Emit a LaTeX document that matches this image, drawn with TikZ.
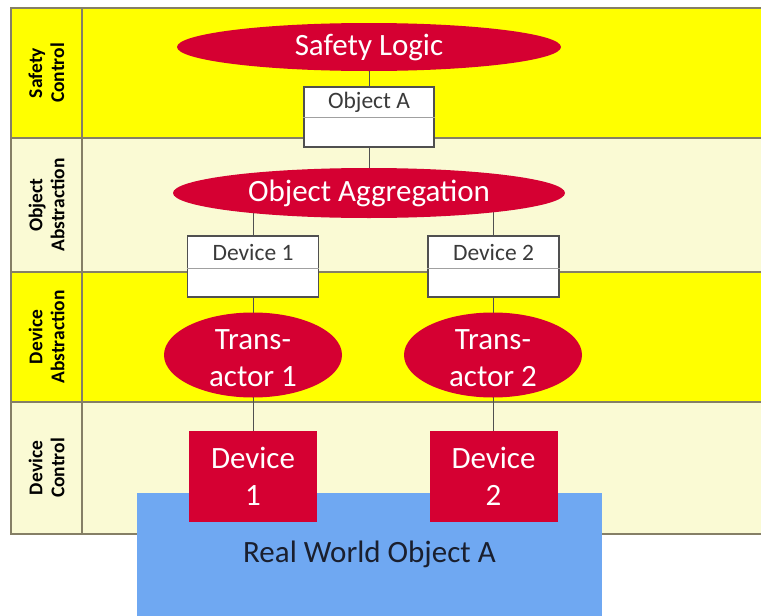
\documentclass[tikz,border=0pt]{standalone}
\usepackage{fontspec}
\setmainfont{Carlito}
\usetikzlibrary{shapes.geometric}
\pgfdeclarelayer{bands}
\pgfdeclarelayer{links}
\pgfsetlayers{bands,links,main}

\definecolor{bandyellow}{HTML}{FFFF00}
\definecolor{bandpale}{HTML}{FAFAD4}
\definecolor{bandline}{HTML}{857F66}
\definecolor{logicred}{HTML}{D50032}
\definecolor{worldblue}{HTML}{6FA8F2}
\definecolor{boxline}{HTML}{505050}
\definecolor{splitline}{HTML}{A0A0A0}
\definecolor{worldtext}{HTML}{1A1F2E}
\definecolor{boxlabel}{HTML}{3A3A3A}

\tikzset{
  band/.style={draw=bandline, line width=1.5pt},
  bandlabel/.style={rotate=90, align=center, inner sep=0pt,
    font=\bfseries\fontsize{19.5}{22}\selectfont, text=black},
  logic/.style={ellipse, fill=logicred, inner sep=0pt, text=white, align=center,
    font=\fontsize{31}{37}\selectfont},
  logictext/.style={inner sep=0pt, text=white, align=center,
    font=\fontsize{31}{37}\selectfont},
  objbox/.style={draw=boxline, fill=white, line width=1.2pt,
    minimum width=130pt, minimum height=60pt, inner sep=0pt},
  boxtext/.style={font=\fontsize{23.5}{26}\selectfont, text=boxlabel, inner sep=0pt},
  devbox/.style={fill=logicred, text=white, align=center, inner sep=0pt,
    minimum width=128pt, minimum height=91pt, font=\fontsize{31}{37}\selectfont},
  world/.style={fill=worldblue, text=worldtext, inner sep=0pt,
    minimum width=465pt, minimum height=123pt, font=\fontsize{31}{37}\selectfont},
  link/.style={draw=boxline, line width=1pt},
  split/.style={draw=splitline, line width=1pt},
}

\begin{document}
\begin{tikzpicture}[x=1pt,y=-1pt]
\useasboundingbox (0,0) rectangle (761,616);

% layer bands
\begin{pgfonlayer}{bands}
  \fill[bandyellow] (11,8)   rectangle (761,138);
  \fill[bandpale]   (11,138) rectangle (761,272);
  \fill[bandyellow] (11,272) rectangle (761,402);
  \fill[bandpale]   (11,402) rectangle (761,534);
  \draw[band] (761,8) -- (11,8) -- (11,534) -- (761,534);
  \draw[band] (11,138) -- (761,138);
  \draw[band] (11,272) -- (761,272);
  \draw[band] (11,402) -- (761,402);
  \draw[band] (82,8) -- (82,534);
\end{pgfonlayer}

% band labels
\node[bandlabel] (lsafety) at (46.5,73)  {Safety\\Control};
\node[bandlabel] (lobject) at (46.5,205) {Object\\Abstraction};
\node[bandlabel] (ldevabs) at (46.5,337) {Device\\Abstraction};
\node[bandlabel] (ldevctl) at (46.5,468) {Device\\Control};

% logic ellipses
\node[logic, minimum width=384pt, minimum height=48pt] (safety) at (369,47) {\raisebox{-1.5pt}{Safety Logic}};
\node[logic, minimum width=392pt, minimum height=50pt] (aggr) at (369,193) {\raisebox{-1.5pt}{Object Aggregation}};
\node[logic, minimum width=178pt, minimum height=85pt] (ta1) at (253,355) {};
\node[logictext] (ta1t) at ([yshift=-3pt]ta1.center) {Trans-\\actor 1};
\node[logic, minimum width=178pt, minimum height=85pt] (ta2) at (493,355) {};
\node[logictext] (ta2t) at ([yshift=-3pt]ta2.center) {Trans-\\actor 2};

% object boxes
\node[objbox] (oa) at (369,117) {};
\draw[split] (oa.west) -- (oa.east);
\node[boxtext] (oat) at ([yshift=14.5pt]oa.center) {Object A};

\node[objbox, minimum width=131pt, minimum height=61pt] (d1) at (253,266.5) {};
\draw[split] ([yshift=-1.5pt]d1.west) -- ([yshift=-1.5pt]d1.east);
\node[boxtext] (d1t) at ([yshift=14.5pt]d1.center) {Device 1};

\node[objbox, minimum width=131pt, minimum height=61pt] (d2) at (493.5,266.5) {};
\draw[split] ([yshift=-1.5pt]d2.west) -- ([yshift=-1.5pt]d2.east);
\node[boxtext] (d2t) at ([yshift=14.5pt]d2.center) {Device 2};

% real world object and devices
\node[world] (rwo) at (369.5,554.5) {\raisebox{-2pt}{Real World Object A}};
\node[devbox] (dev1) at (253,476.5) {Device\\1};
\node[devbox] (dev2) at (493.5,476.5) {Device\\2};

% connectors
\begin{pgfonlayer}{links}
  \draw[link] (oa.north) -- (oa.north |- safety.center);
  \draw[link] (oa.south) -- (oa.south |- aggr.center);
  \draw[link] (d1.north) -- (d1.north |- aggr.center);
  \draw[link] (d2.north) -- (d2.north |- aggr.center);
  \draw[link] (d1.south) -- (d1.south |- ta1.center);
  \draw[link] (d2.south) -- (d2.south |- ta2.center);
  \draw[link] (dev1.north) -- (dev1.north |- ta1.center);
  \draw[link] (dev2.north) -- (dev2.north |- ta2.center);
\end{pgfonlayer}
\end{tikzpicture}
\end{document}
